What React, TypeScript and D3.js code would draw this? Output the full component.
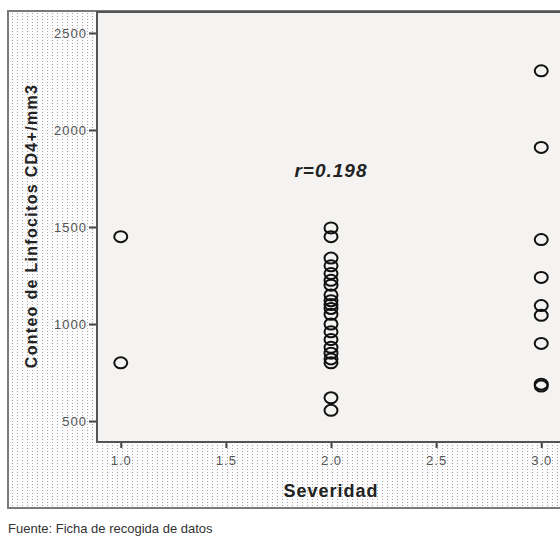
import React from "react";
import * as d3 from "d3";

// severity groups and CD4 counts
const sev1 = [1450, 800];
const sev2 = [
  1495, 1450, 1340, 1300, 1260, 1225, 1200, 1150, 1120, 1100, 1080, 1050,
  1000, 960, 920, 880, 850, 820, 800, 620, 555,
];
const sev3 = [2305, 1910, 1435, 1240, 1095, 1045, 900, 690, 680];

const xTicks = [1.0, 1.5, 2.0, 2.5, 3.0];
const yTicks = [500, 1000, 1500, 2000, 2500];

const width = 560;
const height = 538;
const plot = { left: 97, top: 12, right: 565, bottom: 442 };
const font = "Arial, 'Liberation Sans', sans-serif";

export default function App() {
  const xRef = React.useRef<SVGGElement>(null);
  const yRef = React.useRef<SVGGElement>(null);

  const x = d3.scaleLinear().domain([0.887, 3.113]).range([plot.left, plot.right]);
  const y = d3.scaleLinear().domain([392, 2608]).range([plot.bottom, plot.top]);

  const points = [
    ...sev1.map((v) => ({ s: 1, v })),
    ...sev2.map((v) => ({ s: 2, v })),
    ...sev3.map((v) => ({ s: 3, v })),
  ];

  React.useEffect(() => {
    const gx = d3.select(xRef.current);
    gx.call(
      d3.axisBottom(x).tickValues(xTicks).tickFormat(d3.format(".1f")).tickSize(5).tickPadding(8)
    );
    gx.select(".domain").remove();
    gx.selectAll("line").attr("stroke", "#444").attr("stroke-width", 2);
    gx.selectAll("text")
      .attr("fill", "#555")
      .style("font", `13px ${font}`)
      .style("letter-spacing", "1px");

    const gy = d3.select(yRef.current);
    gy.call(
      d3.axisLeft(y).tickValues(yTicks).tickFormat(d3.format("d")).tickSize(7).tickPadding(2)
    );
    gy.select(".domain").remove();
    gy.selectAll("line").attr("stroke", "#444").attr("stroke-width", 2);
    gy.selectAll("text")
      .attr("fill", "#555")
      .style("font", `13px ${font}`)
      .style("letter-spacing", "1px");
  }, []);

  return (
    <svg
      width={width}
      height={height}
      style={{ position: "absolute", left: 0, top: 0, background: "#fff" }}
    >
      <defs>
        <pattern id="dots" width={5} height={3} patternUnits="userSpaceOnUse">
          <rect width={5} height={3} fill="#fbfbfb" />
          <rect x={2} y={1} width={1} height={1} fill="#a8a8a8" />
        </pattern>
      </defs>
      <rect x={8} y={11} width={570} height={497} fill="url(#dots)" stroke="#7a7a7a" strokeWidth={2} />
      <rect
        x={plot.left}
        y={plot.top}
        width={plot.right - plot.left}
        height={plot.bottom - plot.top}
        fill="#f4f3f1"
        stroke="#555"
        strokeWidth={2}
      />
      <g ref={xRef} transform={`translate(0,${plot.bottom + 1})`} />
      <g ref={yRef} transform={`translate(${plot.left - 1},0)`} />
      <g fill="none" stroke="#111" strokeWidth={2}>
        {points.map((p, i) => (
          <ellipse key={i} cx={x(p.s)} cy={y(p.v)} rx={6.5} ry={5.5} />
        ))}
      </g>
      <text
        x={x(2.0)}
        y={y(1760)}
        textAnchor="middle"
        fontFamily={font}
        fontSize={19}
        fontWeight="bold"
        fontStyle="italic"
        letterSpacing={1}
        fill="#222"
      >
        r=0.198
      </text>
      <text
        x={x(2.0)}
        y={497}
        textAnchor="middle"
        fontFamily={font}
        fontSize={18}
        fontWeight="bold"
        letterSpacing={1}
        fill="#222"
      >
        Severidad
      </text>
      <text
        transform={`translate(37,${226}) rotate(-90)`}
        textAnchor="middle"
        fontFamily={font}
        fontSize={16}
        fontWeight="bold"
        letterSpacing={1.3}
        fill="#222"
      >
        Conteo de Linfocitos CD4+/mm3
      </text>
      <text x={8} y={533} fontFamily={font} fontSize={13} fill="#333">
        Fuente: Ficha de recogida de datos
      </text>
    </svg>
  );
}
